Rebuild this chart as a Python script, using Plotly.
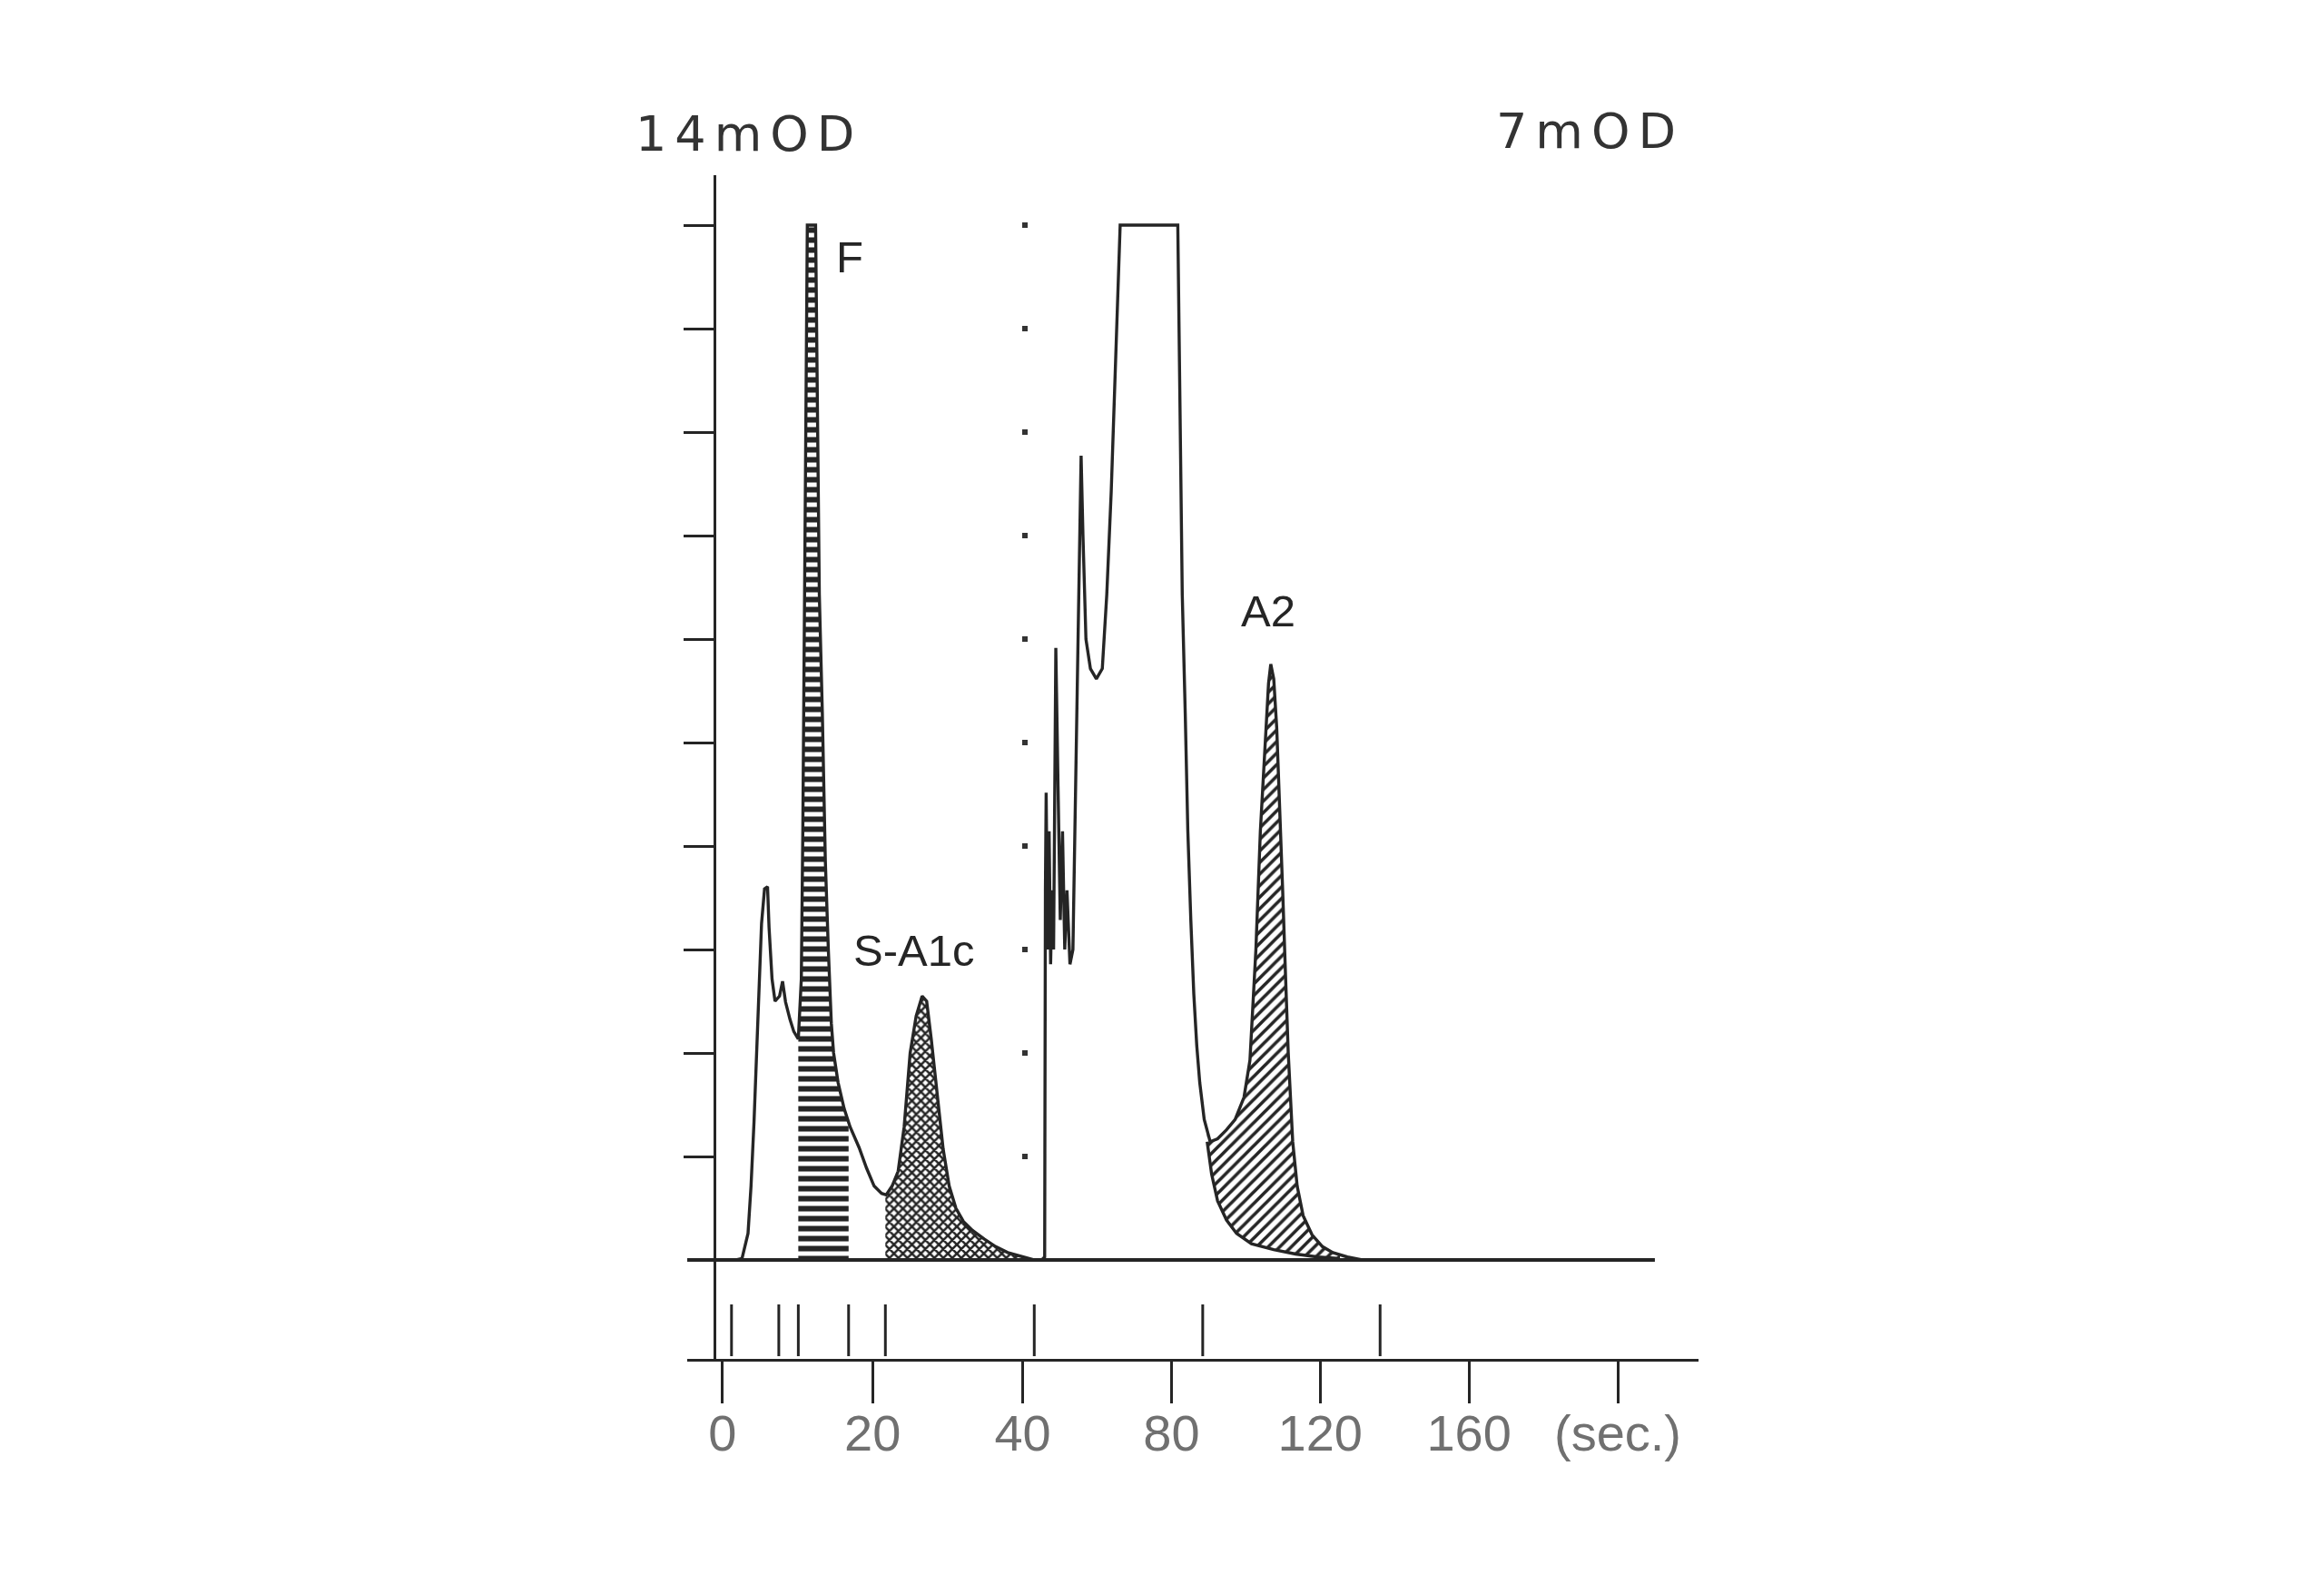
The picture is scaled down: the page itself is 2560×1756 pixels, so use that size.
import numpy as np
import plotly.graph_objects as go

W, H = 2560, 1756

# ---------------- data ----------------
# Left part: full scale 14 mOD, time in seconds
left_t = [1.8, 2.6, 3.4, 3.8, 4.2, 4.8, 5.2, 5.6, 6.0, 6.2, 6.6, 7.0, 7.6, 8.0, 8.4, 9.0,
          9.5, 10.1, 10.5, 10.7, 10.9, 11.1, 11.3, 12.4, 12.6, 12.9, 13.3, 13.7, 14.1,
          14.5, 14.8, 15.4, 16.2, 17.0, 18.2, 19.2, 20.2, 21.2, 21.8, 22.6, 23.4, 24.2,
          25.0, 25.8, 26.6, 27.2, 27.8, 28.6, 29.4, 30.2, 31.1, 32.1, 33.3, 34.9, 36.4,
          38.0, 39.9, 41.5]
left_mod = [0.0, 0.02, 0.36, 1.0, 1.87, 3.39, 4.55, 5.02, 5.05, 4.5, 3.8, 3.5, 3.57, 3.77,
            3.49, 3.25, 3.09, 2.99, 3.8, 5.8, 9.0, 12.0, 14.0, 14.0, 12.0, 9.0, 7.4, 5.4,
            4.2, 3.2, 2.8, 2.4, 2.05, 1.8, 1.52, 1.24, 1.0, 0.9, 0.88, 1.0, 1.2, 1.8, 2.8,
            3.3, 3.57, 3.5, 3.0, 2.2, 1.5, 1.0, 0.70, 0.52, 0.40, 0.28, 0.18, 0.10, 0.04,
            0.0]

# Right part: full scale 7 mOD
right_t = [45.1, 45.9, 46.1, 46.3, 46.7, 47.1, 47.5, 47.9, 48.3, 48.9, 49.5, 50.1, 50.7,
           51.3, 51.9, 52.7, 53.5, 54.3, 55.1, 55.7, 56.2, 57.0, 58.2, 59.8, 61.4, 62.6,
           63.8, 64.6, 65.4, 66.2, 81.7, 82.1, 82.9, 83.7, 84.4, 85.2, 86.0, 86.8, 87.6,
           88.8, 90.4, 92.4, 94.8, 97.1, 99.5, 101.1, 102.7, 103.9, 105.1, 106.1, 106.7,
           107.5, 108.3, 109.1, 109.9, 110.7, 111.4, 112.6, 113.8, 115.4, 117.8, 120.6,
           123.4, 127.3, 131.3, 209.9]
right_mod = [0.0, 0.02, 2.5, 3.16, 2.1, 2.9, 2.0, 2.5, 2.1, 4.14, 3.2, 2.3, 2.9, 2.1, 2.5,
             2.0, 2.1, 3.3, 4.7, 5.44, 4.9, 4.2, 4.0, 3.93, 4.0, 4.5, 5.2, 5.8, 6.5, 7.0,
             7.0, 6.0, 4.5, 3.7, 2.9, 2.3, 1.8, 1.45, 1.2, 0.95, 0.80, 0.82, 0.88, 0.95,
             1.10, 1.35, 2.1, 2.9, 3.5, 3.9, 4.03, 3.93, 3.6, 3.1, 2.5, 1.9, 1.4, 0.80,
             0.50, 0.30, 0.17, 0.09, 0.05, 0.02, 0.0, 0.0]

# Skimmed baseline under A2 (tail of the main peak)
skim_t = [89.6, 90.8, 92.4, 94.8, 97.5, 101.5, 107.5, 113.4, 119.4, 125.3]
skim_mod = [0.80, 0.58, 0.40, 0.27, 0.18, 0.11, 0.07, 0.04, 0.02, 0.01]

# Integration event marks (s)
left_events = [1.2, 7.5, 10.1, 16.8, 21.7]
right_events = [43.1, 88.4, 136.1]

# Integrated windows (s)
f_window = (10.1, 16.8)
sa1c_window = (21.7, 41.5)
a2_window = (89.6, 125.3)

# Axis ticks
left_ticks = [0, 20, 40]
left_tick_text = ["0", "20", "40"]
right_ticks = [80, 120, 160, 200]
right_tick_text = ["80", "120", "160", "(sec.)"]
y_left_ticks = [1.4, 2.8, 4.2, 5.6, 7.0, 8.4, 9.8, 11.2, 12.6, 14.0]
y_right_ticks = [0.7, 1.4, 2.1, 2.8, 3.5, 4.2, 4.9, 5.6, 6.3, 7.0]

peak_labels_left = [("F", 16.9, 13.57), ("S-A1c", 25.5, 4.19)]
peak_labels_right = [("A2", 105.9, 4.39)]

# ---------------- geometry (pixels) ----------------
def px(x):
    return x / W


def py(y):
    return 1 - y / H


Y_TOP, Y_BASE = 193, 1388
X_AXIS_Y = 1498
LABEL_AXIS_Y = 1541
L_PX_PER_S = 8.3
L_X0 = 799               # pixel of t = 0
L_DOM = (760, 1152)
R_DOM = (1131, 1878)
R_PX_PER_S = 4.1125
MOD_PX = (Y_BASE - 248) / 14.0

left_range = [(L_DOM[0] - L_X0) / L_PX_PER_S, (L_DOM[1] - L_X0) / L_PX_PER_S]
right_range = [40, 40 + (R_DOM[1] - R_DOM[0]) / R_PX_PER_S]
yl_range = [-(X_AXIS_Y - Y_BASE) / MOD_PX, (Y_BASE - Y_TOP) / MOD_PX]
yr_range = [v / 2 for v in yl_range]
y_dom = [py(X_AXIS_Y), py(Y_TOP)]

INK = "#252525"
LW = 3.4


def segment(t, v, a, b):
    t = np.asarray(t, float)
    v = np.asarray(v, float)
    m = (t > a) & (t < b)
    ts = [a] + list(t[m]) + [b]
    vs = [float(np.interp(a, t, v))] + list(v[m]) + [float(np.interp(b, t, v))]
    return ts, vs


fig = go.Figure()

# F (horizontal stripes)
ft, fv = segment(left_t, left_mod, *f_window)
fig.add_trace(go.Scatter(x=ft, y=fv, xaxis="x", yaxis="y", mode="lines",
                         line=dict(width=0, color=INK), fill="tozeroy",
                         fillpattern=dict(shape="-", size=11, solidity=0.55,
                                          fgcolor=INK, bgcolor="white", fillmode="replace"),
                         hoverinfo="skip"))
# S-A1c (dot grid)
st, sv = segment(left_t, left_mod, *sa1c_window)
fig.add_trace(go.Scatter(x=st, y=sv, xaxis="x", yaxis="y", mode="lines",
                         line=dict(width=0, color=INK), fill="tozeroy",
                         fillpattern=dict(shape="x", size=7, solidity=0.6,
                                          fgcolor=INK, bgcolor="white", fillmode="replace"),
                         hoverinfo="skip"))
# A2 skim line then hatch
fig.add_trace(go.Scatter(x=skim_t, y=skim_mod, xaxis="x2", yaxis="y2", mode="lines",
                         line=dict(width=LW, color=INK), hoverinfo="skip"))
at, av = segment(right_t, right_mod, *a2_window)
fig.add_trace(go.Scatter(x=at, y=av, xaxis="x2", yaxis="y2", mode="lines",
                         line=dict(width=0, color=INK), fill="tonexty",
                         fillpattern=dict(shape="/", size=9, solidity=0.4,
                                          fgcolor=INK, bgcolor="white", fillmode="replace"),
                         hoverinfo="skip"))

# Chromatogram traces
fig.add_trace(go.Scatter(x=left_t, y=left_mod, xaxis="x", yaxis="y", mode="lines",
                         line=dict(width=LW, color=INK), hoverinfo="skip"))
fig.add_trace(go.Scatter(x=right_t, y=right_mod, xaxis="x2", yaxis="y2", mode="lines",
                         line=dict(width=LW, color=INK), hoverinfo="skip"))

# invisible anchors so the tick-label axes are drawn
fig.add_trace(go.Scatter(x=left_ticks, y=[0] * len(left_ticks), xaxis="x3", yaxis="y",
                         mode="markers", marker=dict(opacity=0), hoverinfo="skip"))
fig.add_trace(go.Scatter(x=right_ticks, y=[0] * len(right_ticks), xaxis="x4", yaxis="y2",
                         mode="markers", marker=dict(opacity=0), hoverinfo="skip"))

# Baseline
shapes = [dict(type="line", xref="paper", yref="y", x0=px(760), x1=px(1830), y0=0, y1=0,
               line=dict(color=INK, width=4))]
# Event marks between baseline and time axis
EV_TOP, EV_BOT = py(1437), py(1494)
for e in left_events:
    shapes.append(dict(type="line", xref="x", yref="paper", x0=e, x1=e, y0=EV_BOT, y1=EV_TOP,
                       line=dict(color=INK, width=3)))
for e in right_events:
    shapes.append(dict(type="line", xref="x2", yref="paper", x0=e, x1=e, y0=EV_BOT, y1=EV_TOP,
                       line=dict(color=INK, width=3)))

label_font = dict(family="Liberation Sans, Arial, sans-serif", size=49, color=INK)
annotations = []
for txt, xx, yy in peak_labels_left:
    annotations.append(dict(text=txt, x=xx, y=yy, xref="x", yref="y", showarrow=False,
                            font=label_font, xanchor="center", yanchor="middle"))
for txt, xx, yy in peak_labels_right:
    annotations.append(dict(text=txt, x=xx, y=yy, xref="x2", yref="y2", showarrow=False,
                            font=label_font, xanchor="center", yanchor="middle"))
scale_font = dict(family="DejaVu Sans, sans-serif", size=54, color="#333333")
annotations.append(dict(text='<span style="letter-spacing:9px">14mOD</span>',
                        x=px(828), y=py(147), xref="paper", yref="paper", showarrow=False,
                        font=scale_font, xanchor="center", yanchor="middle"))
annotations.append(dict(text='<span style="letter-spacing:9px">7mOD</span>',
                        x=px(1758), y=py(144), xref="paper", yref="paper", showarrow=False,
                        font=scale_font, xanchor="center", yanchor="middle"))

tick_font = dict(family="Liberation Sans, Arial, sans-serif", size=56, color="#707070")
xcommon = dict(anchor="free", position=py(X_AXIS_Y), showline=True, linecolor=INK, linewidth=3,
               ticks="outside", ticklen=46, tickwidth=3, tickcolor=INK, showgrid=False,
               zeroline=False, showticklabels=False, fixedrange=True)
xlabels = dict(anchor="free", position=py(LABEL_AXIS_Y), showline=False, ticks="",
               showgrid=False, zeroline=False, tickfont=tick_font, ticklabelstandoff=0,
               fixedrange=True)
fig.update_layout(
    width=W, height=H, margin=dict(l=0, r=0, t=0, b=0),
    paper_bgcolor="white", plot_bgcolor="rgba(0,0,0,0)", showlegend=False,
    xaxis=dict(domain=[px(L_DOM[0]), px(L_DOM[1])], range=left_range,
               tickvals=left_ticks, **xcommon),
    xaxis2=dict(domain=[px(R_DOM[0]), px(R_DOM[1])], range=right_range,
                tickvals=right_ticks, **xcommon),
    xaxis3=dict(domain=[px(L_DOM[0]), px(L_DOM[1])], range=left_range,
                tickvals=left_ticks, ticktext=left_tick_text, **xlabels),
    xaxis4=dict(domain=[px(R_DOM[0]), px(R_DOM[1])], range=right_range,
                tickvals=right_ticks, ticktext=right_tick_text, **xlabels),
    yaxis=dict(domain=y_dom, range=yl_range, anchor="free", position=px(790),
               showline=True, linecolor=INK, linewidth=3, ticks="outside", ticklen=33,
               tickwidth=3, tickcolor=INK, tickvals=y_left_ticks, showticklabels=False,
               showgrid=False, zeroline=False, fixedrange=True),
    yaxis2=dict(domain=y_dom, range=yr_range, anchor="free", position=px(1136),
                showline=False, ticks="outside", ticklen=6, tickwidth=6, tickcolor="#333",
                tickvals=y_right_ticks, showticklabels=False, showgrid=False,
                zeroline=False, fixedrange=True),
    shapes=shapes, annotations=annotations,
)

fig.write_html("out.html", config={"displayModeBar": False, "staticPlot": True},
               post_script="document.body.style.margin='0';document.body.style.overflow='hidden';")
